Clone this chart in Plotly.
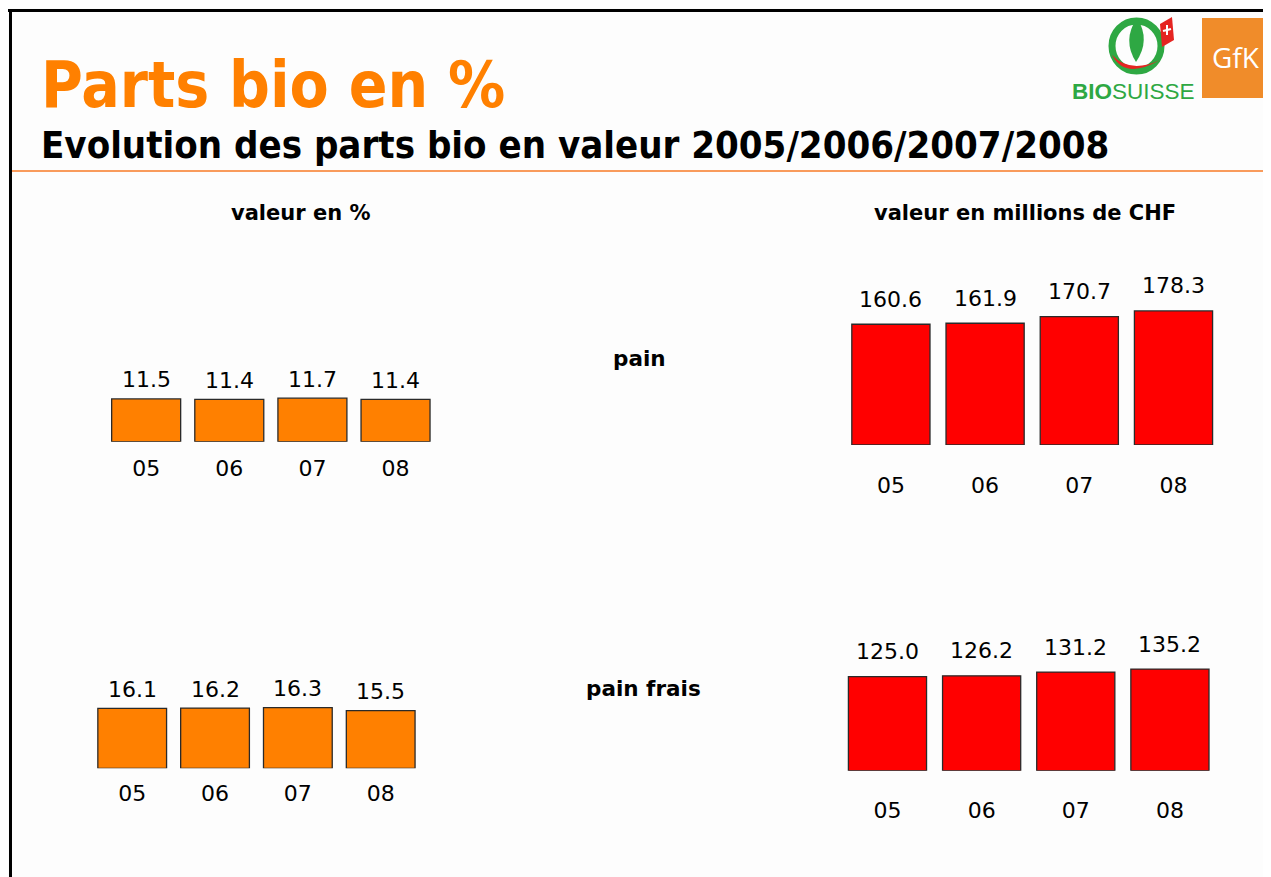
import plotly.graph_objects as go

# ---------------- data ----------------
years = ["05", "06", "07", "08"]
pain_pct = [11.5, 11.4, 11.7, 11.4]
pain_chf = [160.6, 161.9, 170.7, 178.3]
painfrais_pct = [16.1, 16.2, 16.3, 15.5]
painfrais_chf = [125.0, 126.2, 131.2, 135.2]

title = "Parts bio en %"
subtitle = "Evolution des parts bio en valeur 2005/2006/2007/2008"
col_left = "valeur en %"
col_right = "valeur en millions de CHF"
row_labels = ["pain", "pain frais"]

# ---------------- layout helpers ----------------
# the page body has an 8px margin, so the figure starts at (8, 8)
OFF = 8
W, H = 1271, 877
def px(x):
    return (x - OFF) / W
def py(y):
    return 1 - (y - OFF) / H

ORANGE = "#FF8000"
RED = "#FF0000"
FONT = "DejaVu Sans"
TITLE_FONT = "DejaVu Sans Condensed, DejaVu Sans"

fig = go.Figure()

# panels: (axis id, values, color, x-domain px, baseline px, px per unit, height px, label shift, tick standoff)
panels = [
    ("", pain_pct, ORANGE, (104.6, 437.1), 441.7, 3.72, 80, 19, 11),
    ("2", pain_chf, RED, (843.8, 1220.6), 445.0, 0.752, 160, 25, 25),
    ("3", painfrais_pct, ORANGE, (90.8, 422.1), 768.3, 3.72, 80, 19, 10),
    ("4", painfrais_chf, RED, (840.4, 1217.0), 770.7, 0.752, 160, 25, 24),
]

annotations = []
for ax, vals, color, (x0, x1), base, scale, hpx, shift, standoff in panels:
    xa = "x" + ax
    ya = "y" + ax
    fig.add_trace(go.Bar(
        x=years, y=vals, xaxis=xa, yaxis=ya,
        marker=dict(color=color, line=dict(color="#2a2a2a", width=1.3)),
        hoverinfo="x+y", showlegend=False,
    ))
    for i, v in enumerate(vals):
        annotations.append(dict(
            x=i, y=v, xref=xa, yref=ya, text=f"{v:.1f}",
            showarrow=False, yanchor="middle", yshift=shift,
            font=dict(family=FONT, size=22, color="#000000"),
        ))
    fig.update_layout(**{
        "xaxis" + ax: dict(
            type="category", categoryorder="array", categoryarray=years,
            domain=[px(x0), px(x1)], anchor=ya, range=[-0.5, 3.5],
            showgrid=False, zeroline=False, showline=False, ticks="",
            ticklabelstandoff=standoff,
            tickfont=dict(family=FONT, size=22, color="#000000"),
            fixedrange=True,
        ),
        "yaxis" + ax: dict(
            domain=[py(base), py(base - hpx)], anchor=xa,
            range=[0, hpx / scale], visible=False, fixedrange=True,
        ),
    })

# ---------------- texts ----------------
def ptext(x, y, text, size, color="#000000", family=FONT, xanchor="center"):
    return dict(x=px(x), y=py(y), xref="paper", yref="paper", text=text,
                showarrow=False, xanchor=xanchor, yanchor="middle",
                font=dict(family=family, size=size, color=color))

annotations += [
    ptext(39, 85, f"<b>{title}</b>", 63.5, ORANGE, TITLE_FONT, "left"),
    ptext(39, 145, f"<b>{subtitle}</b>", 38, "#000000", TITLE_FONT, "left"),
    ptext(300, 213, f"<b>{col_left}</b>", 21),
    ptext(1025, 213, f"<b>{col_right}</b>", 21),
    ptext(639, 359, f"<b>{row_labels[0]}</b>", 21.5),
    ptext(643, 688, f"<b>{row_labels[1]}</b>", 21.5),
    ptext(1236, 57, "GfK", 28, "#FFFFFF", "Open Sans"),
    ptext(1133, 92, "<b>BIO</b>SUISSE", 22.5, "#2EA843", "Liberation Sans"),
]

# ---------------- decorative shapes ----------------
def pline(x0, y0, x1, y1, color, width):
    return dict(type="line", xref="paper", yref="paper",
                x0=px(x0), x1=px(x1), y0=py(y0), y1=py(y1),
                line=dict(color=color, width=width))

shapes = [
    pline(8, 10.5, 1279, 10.5, "#000000", 3),
    pline(10.5, 10, 10.5, 885, "#000000", 3),
    pline(12, 171, 1279, 171, "#F99B5C", 2),
    dict(type="rect", xref="paper", yref="paper", x0=px(1202), x1=px(1279), y0=py(98), y1=py(18),
         fillcolor="#F08C2A", line=dict(width=0)),
    dict(type="circle", xref="paper", yref="paper", x0=px(1112), x1=px(1161), y0=py(71), y1=py(21),
         line=dict(color="#2EA843", width=7), fillcolor="rgba(0,0,0,0)"),
    dict(type="path", xref="paper", yref="paper",
         path=f"M {px(1136)} {py(62)} Q {px(1122)} {py(40)} {px(1137)} {py(18)} "
              f"Q {px(1151)} {py(40)} {px(1136)} {py(62)} Z",
         fillcolor="#2EA843", line=dict(width=0)),
    dict(type="path", xref="paper", yref="paper",
         path=f"M {px(1112)} {py(55)} Q {px(1125)} {py(80)} {px(1160)} {py(60)} "
              f"Q {px(1130)} {py(74)} {px(1112)} {py(55)} Z",
         fillcolor="#E52421", line=dict(width=0)),
    dict(type="path", xref="paper", yref="paper",
         path=f"M {px(1160)} {py(24)} L {px(1172)} {py(17)} L {px(1174)} {py(40)} L {px(1162)} {py(47)} Z",
         fillcolor="#E52421", line=dict(width=0)),
    pline(1163, 31, 1171, 29, "#FFFFFF", 2),
    pline(1167, 25, 1167, 35, "#FFFFFF", 2),
]

fig.update_layout(
    width=W, height=H,
    margin=dict(l=0, r=0, t=0, b=0),
    paper_bgcolor="#FDFDFD", plot_bgcolor="rgba(0,0,0,0)",
    bargap=0.17,
    annotations=annotations,
    shapes=shapes,
    showlegend=False,
)

fig.write_html("out.html")
